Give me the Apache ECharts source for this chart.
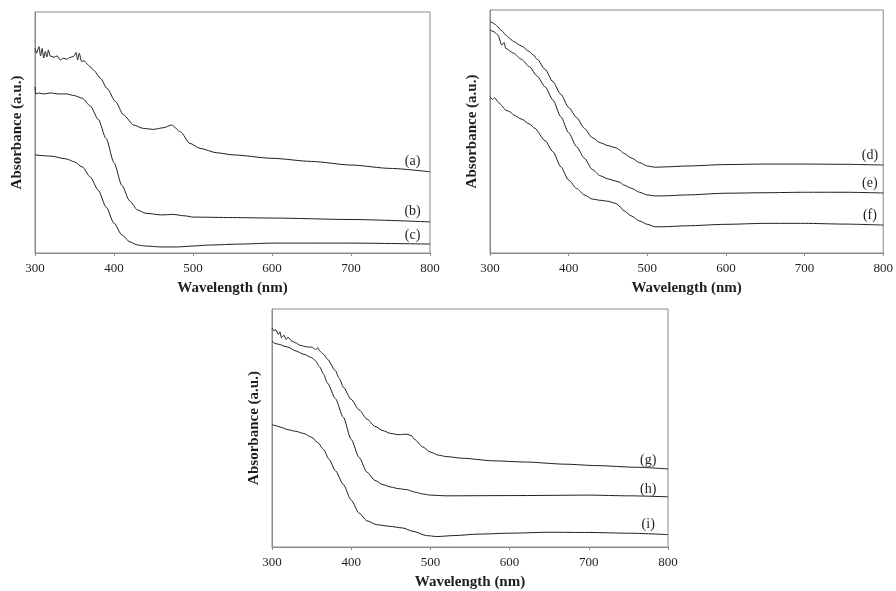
<!DOCTYPE html>
<html>
<head>
<meta charset="utf-8">
<script src="https://cdn.jsdelivr.net/npm/echarts@6.0.0/dist/echarts.min.js"></script>
<style>
    html, body { margin: 0; padding: 0; background: #fff; }
    #chart { width: 896px; height: 591px; }
</style>
</head>
<body>
<div id="chart"></div>
<script>
// wavelength (nm) / absorbance (a.u., 0-100 of panel height)
var wlA = [300,302,305,307,309,311,313,315,317,319,324,328,332,336,340,345,349,352,354,356,359,362,366,370,374,383,391,402,412,425,437,450,463,473,484,496,509,530,551,600,650,700,750,800];
var absA = [84.9,82.9,85.6,81.8,84.9,80.9,83.6,81.4,84.2,81.8,81.2,81.8,80.1,80.8,80.4,81.2,81.6,83.2,80.1,82.9,79.4,79.8,78.4,77.3,75.9,72.5,68.3,62.8,57.3,53.1,51.7,51.3,52,53.1,50.3,45.5,43.4,41.6,40.7,39.3,38,36.5,35.1,33.7];
var wlB = [300,301,305,310,320,330,340,350,360,370,380,390,400,410,420,430,440,460,475,490,500,550,600,700,800];
var absB = [68.9,66,66.4,66,66.4,66,66,65.3,64.2,61,55.5,47.5,37.5,28,21.5,17.8,16.5,15.8,16,15.4,14.9,14.7,14.5,13.9,12.9];
var wlC = [300,320,340,350,360,370,380,390,400,410,420,430,440,460,480,500,520,560,600,700,800];
var absC = [40.7,40.2,39,37.8,35.7,31.5,26.1,19.1,12.4,7.5,4.6,3.3,2.9,2.5,2.5,2.9,3.3,3.7,4.1,4.1,3.7];

var wlD = [300,303,306,310,313,316,320,325,330,340,350,355,360,370,380,390,400,410,420,430,440,450,460,465,470,480,490,500,510,520,550,600,650,700,750,800];
var absD = [95.2,94.8,94.2,93.1,92,91.1,89.7,88.3,87,85.2,82.9,81.5,79.7,75.6,70.5,65.3,59.9,55.8,51.3,47.5,45.4,44.2,43.3,42.4,41,39.1,37.2,35.8,35.3,35.4,35.8,36.4,36.6,36.6,36.5,36.2];
var wlE = [300,305,310,315,318,320,330,340,350,360,370,380,390,400,410,420,430,440,450,460,465,470,480,490,500,510,520,550,600,650,700,750,800];
var absE = [91.8,91.1,89.7,85.6,86.6,84.2,82.2,79.7,76.7,72.8,68.4,63,56.1,49.5,43.8,39,34.4,31.8,30.5,29.6,29.1,28,26.6,25,23.9,23.5,23.5,23.9,24.6,24.8,25,25,24.7];
var wlF = [300,303,306,310,313,316,320,325,330,340,350,357,370,380,390,400,410,420,430,440,450,460,465,470,480,490,500,510,520,550,600,650,700,750,800];
var absF = [64.3,63.2,63.9,62.3,61.3,60.2,58.8,58.2,56.8,55.1,53.1,51.3,46.2,41.7,35.5,30,26.6,23.9,22.2,21.7,21.3,20.4,19.1,17.4,15.2,13.2,11.8,10.8,10.8,11.2,11.8,12.2,12.2,11.9,11.5];

var wlG = [300,302,305,308,310,312,315,318,320,325,330,335,340,345,350,355,358,360,365,370,380,385,390,400,410,420,430,440,450,460,470,476,480,490,500,510,520,540,580,620,670,710,760,800];
var absG = [92,90.9,91.3,89.3,90.4,87.9,89,87.2,88.2,86.5,85.8,84.8,84.4,84,84,83,83.7,82.4,81,78.9,74.1,70.7,67.2,62,57.6,53.7,50.7,48.9,47.7,47.2,47.4,46.8,45.2,42.1,39.9,38.6,38,37.3,36.2,35.7,34.8,34.2,33.5,32.8];
var wlH = [300,305,310,315,320,330,340,350,355,360,365,370,380,390,400,410,420,430,440,450,460,470,480,490,500,520,600,700,750,800];
var absH = [86.5,85.4,85.1,84.4,84,82.4,81,79.6,78.2,75.8,72.7,68.9,62.4,54.5,45.2,37.6,31.4,28,26.2,25.2,24.5,24.1,23.1,22.3,21.8,21.5,21.6,21.8,21.5,21.1];
var wlI = [300,305,310,320,330,340,350,358,365,372,380,390,400,410,420,432,448,465,478,495,508,530,560,600,650,700,750,800];
var absI = [51.4,51,50.4,49.3,48.6,47.7,46.1,43.8,41,36.9,32.1,26.3,19.7,14.2,11,9.4,8.7,8,6.6,4.8,4.4,4.8,5.4,5.8,6.2,6.1,5.8,5.2];

var xTicks = [300, 400, 500, 600, 700, 800];

// curve tags and where they sit (wavelength, absorbance)
var tagNames = ['(a)','(b)','(c)','(d)','(e)','(f)','(g)','(h)','(i)'];
var tagPos = [[778,38.2],[778,17.4],[778,7.5],[783,40.3],[783,28.8],[783,15.6],[775,36.4],[775,24.4],[775,9.5]];

var curves = [
    [wlA, absA, 0], [wlB, absB, 0], [wlC, absC, 0],
    [wlD, absD, 1], [wlE, absE, 1], [wlF, absF, 1],
    [wlG, absG, 2], [wlH, absH, 2], [wlI, absI, 2]
];

var serif = '"Liberation Serif", "Times New Roman", serif';
var frame = '#8a8a8a';
var ink = '#1e1e1e';

function pairs(xs, ys){
    var out = [];
    for (var i = 0; i < xs.length; i++) {
        out.push([xs[i], ys[i]]);
    }
    return out;
}

function makeX(idx){
    return {
        type: 'value',
        gridIndex: idx,
        min: xTicks[0],
        max: xTicks[xTicks.length - 1],
        interval: 100,
        name: 'Wavelength (nm)',
        nameLocation: 'middle',
        nameGap: 28,
        nameTextStyle: { fontFamily: serif, fontWeight: 'bold', fontSize: 15, color: ink },
        axisLine: { show: true, lineStyle: { color: frame, width: 1 } },
        axisTick: { show: true, length: 3, lineStyle: { color: frame } },
        axisLabel: { margin: 9, fontFamily: serif, fontSize: 13, color: ink },
        splitLine: { show: false }
    };
}

function makeY(idx){
    return {
        type: 'value',
        gridIndex: idx,
        min: 0,
        max: 100,
        name: 'Absorbance (a.u.)',
        nameLocation: 'middle',
        nameGap: 10,
        nameTextStyle: { fontFamily: serif, fontWeight: 'bold', fontSize: 15, color: ink },
        axisLine: { show: true, lineStyle: { color: frame, width: 1 } },
        axisTick: { show: false },
        axisLabel: { show: false },
        splitLine: { show: false }
    };
}

var grids = [
    { left: 35, top: 12, width: 395, height: 241 },
    { left: 490, top: 10, width: 395, height: 243 },
    { left: 272, top: 309, width: 396, height: 242 }
];
grids.forEach(function(g){
    g.show = true;
    g.borderColor = frame;
    g.borderWidth = 1;
    g.backgroundColor = 'transparent';
});

var series = curves.map(function(c, k){
    return {
        type: 'line',
        xAxisIndex: c[2],
        yAxisIndex: c[2],
        data: pairs(c[0], c[1]),
        showSymbol: false,
        smooth: 0.25,
        smoothMonotone: 'x',
        lineStyle: { color: ink, width: 1 },
        markPoint: {
            symbol: 'circle',
            symbolSize: 0,
            label: { show: true, position: 'inside', formatter: tagNames[k], fontFamily: serif, fontSize: 14, color: ink },
            data: [{ coord: tagPos[k] }]
        }
    };
});

var chart = echarts.init(document.getElementById('chart'));
chart.setOption({
    animation: false,
    backgroundColor: '#fff',
    grid: grids,
    xAxis: [makeX(0), makeX(1), makeX(2)],
    yAxis: [makeY(0), makeY(1), makeY(2)],
    series: series
});
</script>
</body>
</html>
